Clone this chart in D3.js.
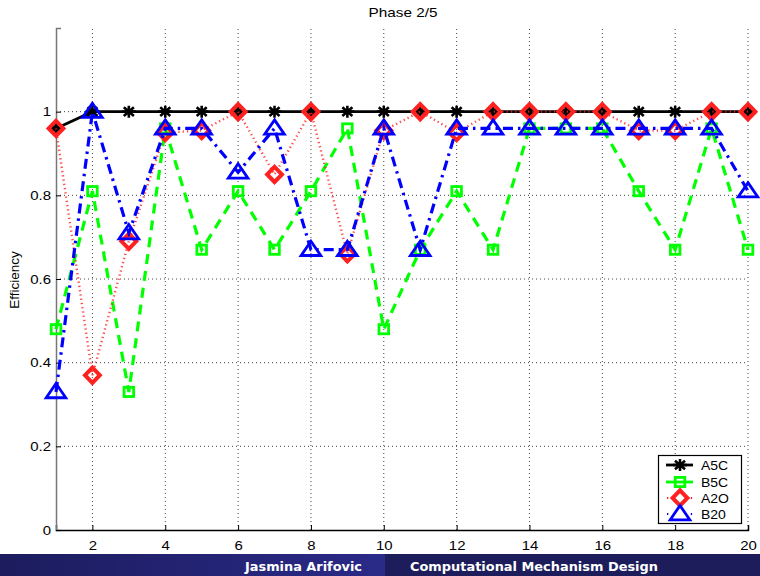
<!DOCTYPE html>
<html><head><meta charset="utf-8">
<script src="https://cdn.jsdelivr.net/npm/d3@7"></script>
<style>body{margin:0;background:#fff}svg{display:block}</style>
</head><body>
<svg id="c" width="760" height="576"></svg>
<script>
const periods = d3.range(1, 21);
const seriesNames = ["A5C", "B5C", "A2O", "B20"];
const a5c = [0.96,1,1,1,1,1,1,1,1,1,1,1,1,1,1,1,1,1,1,1];
const b5c = [0.48,0.81,0.33,0.96,0.67,0.81,0.67,0.81,0.96,0.48,0.67,0.81,0.67,0.96,0.96,0.96,0.81,0.67,0.96,0.67];
const a2o = [0.96,0.37,0.69,0.95,0.955,1,0.85,1,0.66,0.955,1,0.95,1,1,1,1,0.955,0.955,1,1];
const b20 = [0.33,1,0.71,0.96,0.96,0.855,0.96,0.67,0.67,0.96,0.67,0.96,0.96,0.96,0.96,0.96,0.96,0.96,0.96,0.81];
const xTicks = [2,4,6,8,10,12,14,16,18,20];
const yTicks = [0,0.2,0.4,0.6,0.8,1];
const titleText = "Phase 2/5";
const yLabel = "Efficiency";
const footerLeft = "Jasmina Arifovic";
const footerRight = "Computational Mechanism Design";

const svg = d3.select("#c");
const x = d3.scaleLinear().domain([1,20]).range([56,748]);
const y = d3.scaleLinear().domain([0,1.2]).range([530,28]);
const font = "'Liberation Sans', Arial, sans-serif";
const VS = 0.86; // vertical squash of text in reference

// grid
const g = svg.append("g");
g.selectAll(".vg").data(xTicks).join("line")
  .attr("x1", d=>x(d)).attr("x2", d=>x(d)).attr("y1", y(0)).attr("y2", y(1.2))
  .attr("stroke", "#444").attr("stroke-width", 1).attr("stroke-dasharray", "1,3");
g.selectAll(".hg").data(yTicks.filter(d=>d>0)).join("line")
  .attr("x1", x(1)).attr("x2", x(20)).attr("y1", d=>y(d)).attr("y2", d=>y(d))
  .attr("stroke", "#444").attr("stroke-width", 1).attr("stroke-dasharray", "1,3");

// axes
const PX = 11;
const xAxis = d3.axisBottom(x).tickValues(xTicks).tickSize(-5).tickPadding(PX).tickFormat(d3.format("d"));
const yAxis = d3.axisLeft(y).tickValues(yTicks).tickSize(-5).tickPadding(5).tickFormat(d=> d===0?"0":d===1?"1":d3.format(".1f")(d));
const ax = svg.append("g").attr("transform", `translate(0,${y(0)})`).call(xAxis);
ax.select(".domain").attr("stroke", "#000").attr("stroke-width", 1.5);
ax.selectAll(".tick line").attr("stroke", "#000");
ax.selectAll("text").attr("font-family", font).attr("font-size", 15).attr("fill", "#000")
  .attr("transform", `translate(0,${PX}) scale(1,${VS}) translate(0,${-PX})`);
const ay = svg.append("g").attr("transform", `translate(${x(1)},0)`).call(yAxis);
ay.select(".domain").attr("stroke", "#777").attr("stroke-width", 1.5);
ay.selectAll(".tick line").attr("stroke", "#000");
ay.selectAll("text").attr("font-family", font).attr("font-size", 15).attr("fill", "#000")
  .attr("transform", `scale(1,${VS})`);

svg.append("text").attr("transform", `translate(403,17) scale(1,${VS})`).attr("text-anchor", "middle")
  .attr("font-family", font).attr("font-size", 15.3).text(titleText);
svg.append("text").attr("transform", `translate(19,280) rotate(-90)`).attr("text-anchor", "middle")
  .attr("font-family", font).attr("font-size", 13.5).text(yLabel);

// markers
function drawMarker(sel, type, color) {
  if (type === "star") {
    const rx = 7, ry = 6;
    sel.append("path").attr("d", `M${-rx},0H${rx}M0,${-ry}V${ry}M${-rx*0.72},${-ry*0.72}L${rx*0.72},${ry*0.72}M${-rx*0.72},${ry*0.72}L${rx*0.72},${-ry*0.72}`)
      .attr("stroke", color).attr("stroke-width", 2.6).attr("fill", "none");
  } else if (type === "square") {
    sel.append("rect").attr("x", -4.8).attr("y", -4.6).attr("width", 9.6).attr("height", 9.2)
      .attr("stroke", color).attr("stroke-width", 2.8).attr("fill", "none");
  } else if (type === "diamond") {
    sel.append("path").attr("d", "M0,-7.6L7.4,0L0,7.6L-7.4,0Z")
      .attr("stroke", color).attr("stroke-width", 4).attr("fill", "none").attr("stroke-linejoin","miter");
  } else if (type === "triangle") {
    sel.append("path").attr("d", "M0,-8.5L9.8,5.8L-9.8,5.8Z")
      .attr("stroke", color).attr("stroke-width", 2.8).attr("fill", "none");
  }
}

const specs = [
  {name: seriesNames[0], vals: a5c, color: "#000", dash: null, width: 2.8, marker: "star"},
  {name: seriesNames[1], vals: b5c, color: "#00ff00", dash: "10,7", width: 3.2, marker: "square"},
  {name: seriesNames[2], vals: a2o, color: "#ff2020", dash: "1.3,3", width: 2.4, marker: "diamond"},
  {name: seriesNames[3], vals: b20, color: "#0000ff", dash: "10,5,2.5,5", width: 3.2, marker: "triangle"}
];
const line = d3.line().x((d,i)=>x(periods[i])).y(d=>y(d));
specs.forEach(s => {
  const sg = svg.append("g");
  sg.append("path").attr("d", line(s.vals)).attr("fill", "none").attr("stroke", s.color)
    .attr("stroke-width", s.width).attr("stroke-dasharray", s.dash)
    .attr("stroke-opacity", s.marker === "diamond" ? 0.8 : 1);
  s.vals.forEach((v,i) => {
    const mg = sg.append("g").attr("transform", `translate(${x(periods[i])},${y(v)})`);
    drawMarker(mg, s.marker, s.color);
  });
});

// legend
const lg = svg.append("g");
lg.append("rect").attr("x", 658.5).attr("y", 455.5).attr("width", 83).attr("height", 68)
  .attr("fill", "#fff").attr("stroke", "#000").attr("stroke-width", 1.2);
const legY = [465, 482, 498, 514];
specs.forEach((s, i) => {
  const ly = legY[i];
  const solid = i < 2;
  if (solid) {
    lg.append("line").attr("x1", 666).attr("x2", 693).attr("y1", ly).attr("y2", ly)
      .attr("stroke", s.color).attr("stroke-width", 2.8);
  } else {
    lg.append("line").attr("x1", 667).attr("x2", 693).attr("y1", ly).attr("y2", ly)
      .attr("stroke", s.color).attr("stroke-width", 2).attr("stroke-dasharray", "1.3,22.5");
  }
  const mg = lg.append("g").attr("transform", `translate(680,${ly})`);
  drawMarker(mg, s.marker, s.color);
  lg.append("text").attr("transform", `translate(701,${ly + 5}) scale(1,${VS})`)
    .attr("font-family", font).attr("font-size", 14).text(s.name);
});

// footer banner
const grad = svg.append("defs").append("linearGradient").attr("id", "fg");
grad.append("stop").attr("offset", "0%").attr("stop-color", "#1c1c5e");
grad.append("stop").attr("offset", "100%").attr("stop-color", "#2a2a88");
svg.append("rect").attr("x", 0).attr("y", 554).attr("width", 385).attr("height", 22).attr("fill", "url(#fg)");
svg.append("rect").attr("x", 385).attr("y", 554).attr("width", 375).attr("height", 22).attr("fill", "#1d1d5c");
svg.append("text").attr("x", 245).attr("y", 571).attr("font-family", "'DejaVu Sans', sans-serif")
  .attr("font-weight", "bold").attr("font-size", 12.5).attr("fill", "#fff")
  .attr("textLength", 117).attr("lengthAdjust", "spacingAndGlyphs").text(footerLeft);
svg.append("text").attr("x", 410).attr("y", 571).attr("font-family", "'DejaVu Sans', sans-serif")
  .attr("font-weight", "bold").attr("font-size", 12.5).attr("fill", "#fff")
  .attr("textLength", 248).attr("lengthAdjust", "spacingAndGlyphs").text(footerRight);
</script>
</body></html>
